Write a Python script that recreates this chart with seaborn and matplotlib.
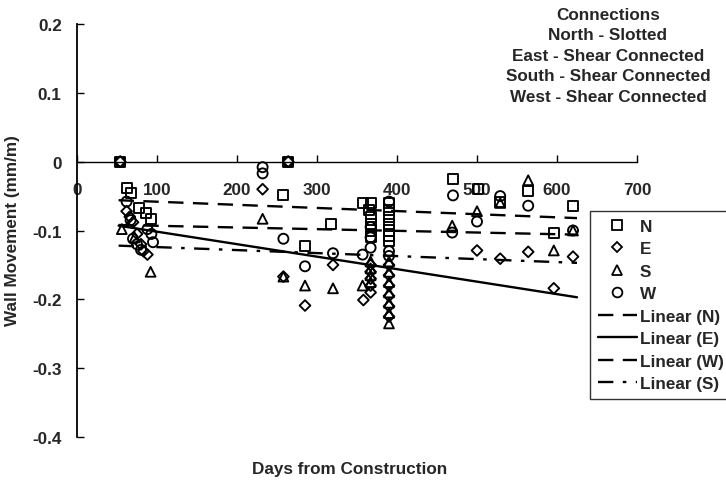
import numpy as np
import pandas as pd
import matplotlib
matplotlib.use("Agg")
import matplotlib.pyplot as plt
import seaborn as sns
from matplotlib.lines import Line2D

# ---------------- data ----------------
n_days = [54, 264, 62, 67, 78, 86, 93, 258, 285, 318,
          358, 367, 365, 367, 367, 367, 367,
          390, 390, 390, 390, 390, 390, 390,
          470, 501, 529, 564, 596, 620]
n_vals = [0.0, 0.0, -0.038, -0.045, -0.068, -0.075, -0.083, -0.049, -0.123, -0.091,
          -0.060, -0.060, -0.070, -0.080, -0.090, -0.100, -0.110,
          -0.060, -0.070, -0.080, -0.090, -0.100, -0.108, -0.115,
          -0.025, -0.039, -0.058, -0.043, -0.104, -0.065]

e_days = [54, 264, 62, 66, 70, 75, 80, 83, 88, 232, 258, 285, 320,
          367, 367, 367, 367, 367, 358,
          390, 390, 390, 390, 390, 390,
          500, 529, 564, 596, 620]
e_vals = [0.0, 0.0, -0.072, -0.080, -0.088, -0.105, -0.120, -0.130, -0.135, -0.040, -0.167, -0.209, -0.150,
          -0.150, -0.160, -0.170, -0.180, -0.190, -0.201,
          -0.150, -0.165, -0.180, -0.195, -0.210, -0.225,
          -0.129, -0.141, -0.131, -0.184, -0.138]

s_days = [56, 72, 92, 232, 258, 285, 320, 357,
          367, 367, 367, 367,
          390, 390, 390, 390, 390, 390, 390,
          469, 500, 529, 564, 596, 620]
s_vals = [-0.098, -0.110, -0.160, -0.083, -0.167, -0.180, -0.184, -0.180,
          -0.145, -0.155, -0.165, -0.175,
          -0.145, -0.160, -0.175, -0.190, -0.205, -0.220, -0.235,
          -0.093, -0.072, -0.060, -0.027, -0.129, -0.100]

w_days = [54, 264, 62, 67, 70, 75, 80, 88, 93, 95, 232, 232, 258, 285, 320, 357,
          367, 367, 367,
          390, 390, 390,
          470, 469, 500, 529, 564, 620]
w_vals = [0.0, 0.0, -0.058, -0.085, -0.112, -0.120, -0.128, -0.098, -0.105, -0.117, -0.008, -0.017, -0.112, -0.152, -0.133, -0.135,
          -0.095, -0.110, -0.125,
          -0.058, -0.130, -0.137,
          -0.049, -0.103, -0.087, -0.050, -0.064, -0.100]

# trend lines (endpoints)
trend_days = [52, 625]
trend_n = [-0.056, -0.082]
trend_e = [-0.093, -0.197]
trend_w = [-0.092, -0.106]
trend_s = [-0.122, -0.147]

x_ticks = [0, 100, 200, 300, 400, 500, 600, 700]
y_ticks = [0.2, 0.1, 0, -0.1, -0.2, -0.3, -0.4]
y_ticklabels = ["0.2", "0.1", "0", "-0.1", "-0.2", "-0.3", "-0.4"]
note_lines = ["Connections", "North - Slotted", "East - Shear Connected",
              "South - Shear Connected", "West - Shear Connected"]

# ---------------- plot ----------------
sns.set_theme(style="white")
plt.rcParams["font.family"] = ["Liberation Sans", "DejaVu Sans"]
plt.rcParams["font.weight"] = "bold"
FS = 12.3

fig = plt.figure(figsize=(7.26, 4.81), dpi=100)
ax = fig.add_axes([77 / 726, 1 - 438 / 481, (637 - 77) / 726, (438 - 25) / 481])

df = pd.concat([
    pd.DataFrame({"day": n_days, "val": n_vals, "series": "N"}),
    pd.DataFrame({"day": e_days, "val": e_vals, "series": "E"}),
    pd.DataFrame({"day": s_days, "val": s_vals, "series": "S"}),
    pd.DataFrame({"day": w_days, "val": w_vals, "series": "W"}),
], ignore_index=True)

marker_map = {"N": "s", "E": "D", "S": "^", "W": "o"}
size_map = {"N": 52, "E": 30, "S": 50, "W": 52}
for key in ["N", "E", "S", "W"]:
    sub = df[df.series == key]
    sns.scatterplot(data=sub, x="day", y="val", marker=marker_map[key],
                    s=size_map[key], facecolor="none", edgecolor="black",
                    linewidth=1.35, ax=ax, legend=False, zorder=3)

tdf = pd.DataFrame({"day": trend_days * 4,
                    "val": trend_n + trend_e + trend_w + trend_s,
                    "fit": ["N"] * 2 + ["E"] * 2 + ["W"] * 2 + ["S"] * 2})
dash_map = {"N": (6.5, 4), "W": (6.5, 4), "S": (6.5, 4, 1.5, 4)}
for key in ["N", "E", "W", "S"]:
    sub = tdf[tdf.fit == key]
    sns.lineplot(data=sub, x="day", y="val", color="black", lw=1.7,
                 ax=ax, legend=False, zorder=2)
    l = ax.lines[-1]
    if key == "E":
        l.set_linestyle("-")
    else:
        l.set_dashes(dash_map[key])

ax.set_xlim(0, 700)
ax.set_ylim(-0.4, 0.2)
ax.set_xticks(x_ticks)
ax.set_xticklabels([str(t) for t in x_ticks])
ax.set_yticks(y_ticks)
ax.set_yticklabels(y_ticklabels)

for sp in ["top", "right"]:
    ax.spines[sp].set_visible(False)
ax.spines["bottom"].set_position(("data", 0))
ax.spines["left"].set_color("black")
ax.spines["bottom"].set_color("black")
ax.spines["left"].set_linewidth(1.3)
ax.spines["bottom"].set_linewidth(1.0)
ax.tick_params(axis="x", direction="in", length=5, width=1.0, color="black",
               labelsize=FS, pad=14.5, bottom=True)
ax.tick_params(axis="y", direction="in", length=5, width=1.0, color="black",
               labelsize=FS, pad=11, left=True)
for t in ax.get_xticklabels() + ax.get_yticklabels():
    t.set_fontweight("bold")

ax.set_xlabel("")
ax.set_ylabel("")
fig.text(350 / 726, 1 - 470 / 481, "Days from Construction",
         ha="center", va="center", fontsize=FS, fontweight="bold")
fig.text(13 / 726, 1 - 231 / 481, "Wall Movement (mm/m)", rotation=90,
         ha="center", va="center", fontsize=FS, fontweight="bold")

for i, line in enumerate(note_lines):
    fig.text(608 / 726, 1 - (15 + i * 20.6) / 481, line, ha="center",
             va="center", fontsize=FS, fontweight="bold")

handles = [
    Line2D([], [], ls="none", marker="s", mfc="none", mec="black", ms=7, mew=1.3),
    Line2D([], [], ls="none", marker="D", mfc="none", mec="black", ms=5.5, mew=1.3),
    Line2D([], [], ls="none", marker="^", mfc="none", mec="black", ms=7, mew=1.3),
    Line2D([], [], ls="none", marker="o", mfc="none", mec="black", ms=7, mew=1.3),
    Line2D([], [], color="black", lw=1.7, dashes=(6.5, 4)),
    Line2D([], [], color="black", lw=1.7, ls="-"),
    Line2D([], [], color="black", lw=1.7, dashes=(6.5, 4)),
    Line2D([], [], color="black", lw=1.7, dashes=(6.5, 4, 1.5, 4)),
]
labels = ["N", "E", "S", "W", "Linear (N)", "Linear (E)", "Linear (W)", "Linear (S)"]
leg = fig.legend(handles, labels, loc="upper left",
                 bbox_to_anchor=(590 / 726, 1 - 212 / 481),
                 frameon=True, fancybox=False,
                 prop={"weight": "bold", "size": FS, "family": "Liberation Sans"},
                 handlelength=2.3, handletextpad=0.15, labelspacing=0.44,
                 borderpad=0.45, borderaxespad=0)
leg.get_frame().set_edgecolor("black")
leg.get_frame().set_linewidth(1.0)

fig.savefig("out.png", dpi=100, facecolor="white")
